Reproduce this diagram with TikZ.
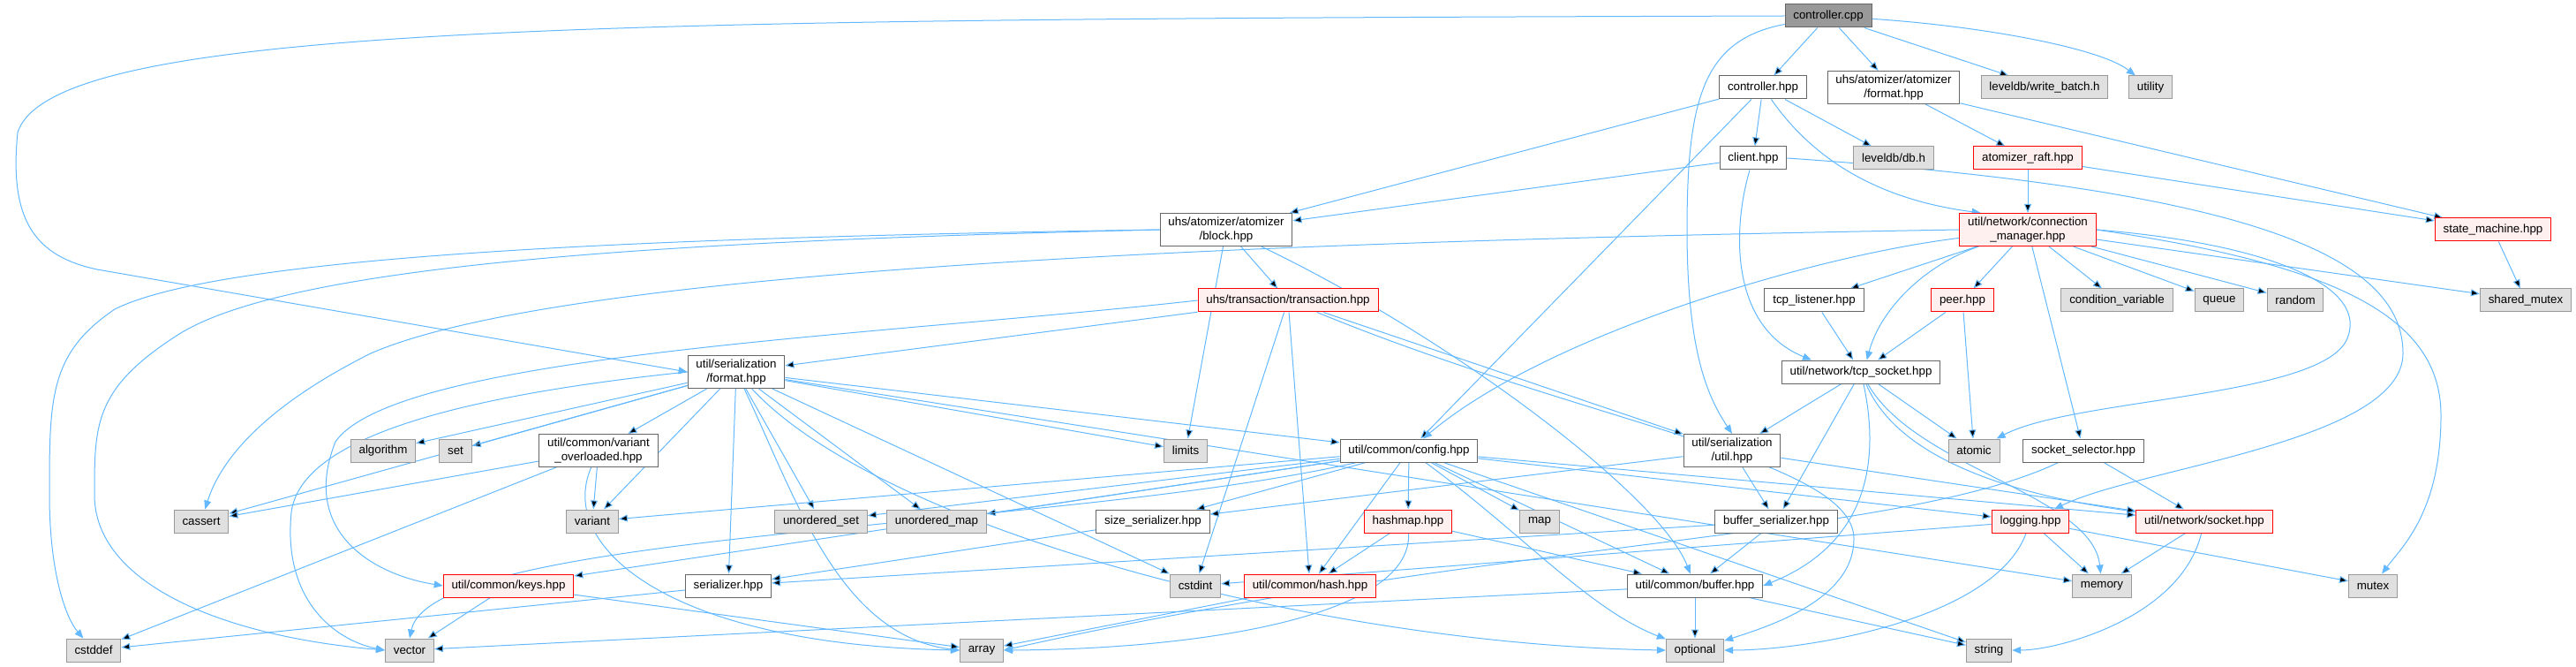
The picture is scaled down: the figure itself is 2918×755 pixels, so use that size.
\documentclass[tikz,border=0pt]{standalone}
\usepackage{fontspec}
\setmainfont{Liberation Sans}
\usetikzlibrary{arrows.meta}
\definecolor{depblue}{HTML}{63B8FF}
\definecolor{boxline}{HTML}{666666}
\definecolor{sysline}{HTML}{999999}
\definecolor{sysfill}{HTML}{E0E0E0}
\definecolor{redfill}{HTML}{FFF0F0}
\definecolor{rootfill}{HTML}{999999}
\pgfdeclarelayer{edges}
\pgfsetlayers{edges,main}
\tikzset{
  filebox/.style={draw=boxline, fill=white, line width=0.75pt, align=center,
    font=\fontsize{10}{12.5}\selectfont, inner xsep=7pt, inner ysep=3pt, minimum height=19.5pt},
  redbox/.style={filebox, draw=red, fill=redfill},
  sysbox/.style={filebox, draw=sysline, fill=sysfill},
  rootbox/.style={filebox, fill=rootfill},
  dep/.style={draw=depblue, line width=0.75pt, -{Triangle[length=7.5pt,width=6pt]}}
}
\begin{document}
\begin{tikzpicture}[x=0.75pt, y=-0.75pt]
  \useasboundingbox (0,0) rectangle (2918,755);
  % rank 0
  \node[rootbox] (ctrlcpp) at (2071,18) {controller.cpp};
  % rank 1
  \node[filebox] (ctrlhpp) at (1997,99) {controller.hpp};
  \node[filebox] (atomfmt) at (2145,99) {uhs/atomizer/atomizer\\/format.hpp};
  \node[sysbox] (writebatch) at (2316,99) {leveldb/write\_batch.h};
  \node[sysbox] (utility) at (2436,99) {utility};
  % rank 2
  \node[filebox] (client) at (1986,179) {client.hpp};
  \node[sysbox] (leveldb) at (2145,179) {leveldb/db.h};
  \node[redbox] (raft) at (2297,179) {atomizer\_raft.hpp};
  % rank 3
  \node[filebox] (block) at (1389,260) {uhs/atomizer/atomizer\\/block.hpp};
  \node[redbox] (connmgr) at (2297,260) {util/network/connection\\\_manager.hpp};
  \node[redbox] (statemach) at (2824,260) {state\_machine.hpp};
  % rank 4
  \node[redbox] (transact) at (1459,340) {uhs/transaction/transaction.hpp};
  \node[filebox] (tcplisten) at (2055,340) {tcp\_listener.hpp};
  \node[redbox] (peer) at (2223,340) {peer.hpp};
  \node[sysbox] (condvar) at (2398,340) {condition\_variable};
  \node[sysbox] (queue) at (2514,340) {queue};
  \node[sysbox] (random) at (2600,340) {random};
  \node[sysbox] (shmutex) at (2861,340) {shared\_mutex};
  % rank 5
  \node[filebox] (serfmt) at (834,421) {util/serialization\\/format.hpp};
  \node[filebox] (tcpsock) at (2108,421) {util/network/tcp\_socket.hpp};
  % rank 6
  \node[sysbox] (algorithm) at (434,510) {algorithm};
  \node[sysbox] (set) at (516,510) {set};
  \node[filebox] (varover) at (678,510) {util/common/variant\\\_overloaded.hpp};
  \node[sysbox] (limits) at (1343,510) {limits};
  \node[filebox] (config) at (1596,510) {util/common/config.hpp};
  \node[filebox] (serutil) at (1962,510) {util/serialization\\/util.hpp};
  \node[sysbox] (atomic) at (2236,510) {atomic};
  \node[filebox] (socksel) at (2360,510) {socket\_selector.hpp};
  % rank 7
  \node[sysbox] (cassert) at (228,590) {cassert};
  \node[sysbox] (variant) at (671,590) {variant};
  \node[sysbox] (uset) at (930,590) {unordered\_set};
  \node[sysbox] (umap) at (1061,590) {unordered\_map};
  \node[filebox] (sizeser) at (1306,590) {size\_serializer.hpp};
  \node[redbox] (hashmap) at (1595,590) {hashmap.hpp};
  \node[sysbox] (map) at (1744,590) {map};
  \node[filebox] (bufser) at (2012,590) {buffer\_serializer.hpp};
  \node[redbox] (logging) at (2300,590) {logging.hpp};
  \node[redbox] (socket) at (2497,590) {util/network/socket.hpp};
  % rank 8
  \node[redbox] (keys) at (576,663) {util/common/keys.hpp};
  \node[filebox] (serializer) at (825,663) {serializer.hpp};
  \node[sysbox] (cstdint) at (1354,663) {cstdint};
  \node[redbox] (hash) at (1484,663) {util/common/hash.hpp};
  \node[filebox] (buffer) at (1920,663) {util/common/buffer.hpp};
  \node[sysbox] (memory) at (2381,663) {memory};
  \node[sysbox] (mutex) at (2688,663) {mutex};
  % rank 9
  \node[sysbox] (cstddef) at (106,736) {cstddef};
  \node[sysbox] (vector) at (464,736) {vector};
  \node[sysbox] (array) at (1112,736) {array};
  \node[sysbox] (optional) at (1920,736) {optional};
  \node[sysbox] (string) at (2253,736) {string};

  \begin{pgfonlayer}{edges}
  % controller.cpp
  \draw[dep] (ctrlcpp) edge (ctrlhpp) edge (atomfmt) edge (writebatch);
  \draw[dep] (ctrlcpp) .. controls (2250,30) and (2380,55) .. (utility);
  \draw[dep] (ctrlcpp.west) .. controls (700,22) and (60,25) .. (20,150)
    .. controls (10,250) and (40,290) .. (110,305) -- (serfmt.west);
  \draw[dep] (ctrlcpp) .. controls (1930,45) and (1911,110) .. (1911,260)
    .. controls (1911,400) and (1935,450) .. (serutil.north);
  % controller.hpp
  \draw[dep] (ctrlhpp) edge (client) edge (leveldb) edge (block) edge (config);
  \draw[dep] (ctrlhpp) .. controls (2050,175) and (2120,225) .. ([xshift=-40pt]connmgr.north);
  % client.hpp
  \draw[dep] (client) edge (block);
  \draw[dep] (client) .. controls (1962,260) and (1960,370) .. ([xshift=-42pt]tcpsock.north);
  \draw[dep] (client.east) .. controls (2550,215) and (2722,290) .. (2722,400)
    .. controls (2722,500) and (2420,530) .. (logging);
  % atomizer
  \draw[dep] (atomfmt) edge (raft) edge (statemach);
  \draw[dep] (raft) edge (connmgr) edge (statemach);
  \draw[dep] (statemach) edge (shmutex);
  % block.hpp
  \draw[dep] (block) edge (transact) edge (limits);
  \draw[dep] (block) .. controls (1640,380) and (1880,560) .. (buffer);
  \draw[dep] (block.west) .. controls (800,268) and (260,285) .. (130,350)
    .. controls (56,400) and (56,450) .. (56,560) .. controls (56,650) and (75,700) .. (cstddef);
  \draw[dep] (block.west) .. controls (800,272) and (330,295) .. (200,380)
    .. controls (107,440) and (107,480) .. (107,560) .. controls (107,660) and (250,720) .. (vector.west);
  % connection_manager.hpp
  \draw[dep] (connmgr) edge (tcplisten) edge (peer) edge (socksel)
    edge (condvar) edge (queue) edge (random) edge (shmutex);
  \draw[dep] (connmgr) .. controls (2180,300) and (2130,350) .. ([xshift=5pt]tcpsock.north);
  \draw[dep] (connmgr) .. controls (2050,290) and (1750,380) .. (config);
  \draw[dep] (connmgr.west) .. controls (1500,272) and (650,300) .. (420,400)
    .. controls (300,460) and (250,520) .. (cassert);
  \draw[dep] (connmgr.east) .. controls (2560,275) and (2680,320) .. (2660,380)
    .. controls (2640,450) and (2350,450) .. (atomic);
  \draw[dep] (connmgr.east) .. controls (2650,300) and (2765,360) .. (2765,470)
    .. controls (2765,580) and (2720,620) .. (mutex);
  % tcp_listener, peer
  \draw[dep] (tcplisten) edge (tcpsock);
  \draw[dep] (peer) edge (tcpsock) edge (atomic);
  % transaction.hpp
  \draw[dep] (transact) edge (serfmt) edge (serutil) edge (cstdint) edge (hash);
  \draw[dep] (transact) .. controls (1800,480) and (2100,520) .. (2100,610)
    .. controls (2100,680) and (2000,710) .. (optional);
  \draw[dep] (transact.west) .. controls (1000,380) and (450,400) .. (380,500)
    .. controls (340,600) and (420,650) .. (keys.west);
  % tcp_socket.hpp
  \draw[dep] (tcpsock) edge (serutil) edge (bufser) edge (atomic);
  \draw[dep] (tcpsock) .. controls (2150,520) and (2280,560) .. (socket);
  \draw[dep] (tcpsock) .. controls (2125,500) and (2130,610) .. (buffer.east);
  \draw[dep] (tcpsock) .. controls (2170,530) and (2370,560) .. (memory);
  % serialization/format.hpp
  \draw[dep] (serfmt) edge (algorithm) edge (set) edge (varover) edge (limits) edge (config)
    edge (cassert) edge (variant) edge (uset) edge (umap) edge (cstdint) edge (serializer) edge (memory);
  \draw[dep] (serfmt.west) .. controls (500,450) and (340,500) .. (330,580)
    .. controls (320,680) and (380,725) .. (vector.west);
  \draw[dep] (serfmt) .. controls (900,560) and (950,720) .. (array.west);
  \draw[dep] (serfmt) .. controls (1000,600) and (1500,730) .. (optional.west);
  % variant_overloaded.hpp
  \draw[dep] (varover) edge (cassert) edge (variant) edge (cstddef);
  \draw[dep] (varover) .. controls (630,620) and (760,730) .. (array.west);
  % config.hpp
  \draw[dep] (config) edge (variant) edge (uset) edge (umap) edge (sizeser) edge (hashmap)
    edge (hash) edge (map) edge (logging) edge (socket) edge (string) edge (buffer) edge (keys);
  \draw[dep] (config) .. controls (1200,600) and (490,600) .. (vector.north);
  \draw[dep] (config) .. controls (1720,600) and (1800,690) .. (optional);
  % lower headers
  \draw[dep] (serutil) edge (sizeser) edge (bufser) edge (socket);
  \draw[dep] (socksel) edge (socket);
  \draw[dep] (socksel) .. controls (2150,610) and (1700,610) .. (array.east);
  \draw[dep] (sizeser) edge (serializer);
  \draw[dep] (hashmap) edge (hash) edge (buffer);
  \draw[dep] (hashmap) .. controls (1600,700) and (1350,735) .. (array.east);
  \draw[dep] (bufser) edge (buffer) edge (serializer);
  \draw[dep] (logging) edge (memory) edge (mutex) edge (cstdint);
  \draw[dep] (logging) .. controls (2260,700) and (2050,736) .. (optional.east);
  \draw[dep] (socket) edge (memory);
  \draw[dep] (socket) .. controls (2470,700) and (2330,736) .. (string.east);
  \draw[dep] (keys) edge (vector) edge (array);
  \draw[dep] (serializer) edge (cstddef);
  \draw[dep] (hash) edge (array);
  \draw[dep] (buffer) edge (vector) edge (optional) edge (string);
  \end{pgfonlayer}
\end{tikzpicture}
\end{document}
